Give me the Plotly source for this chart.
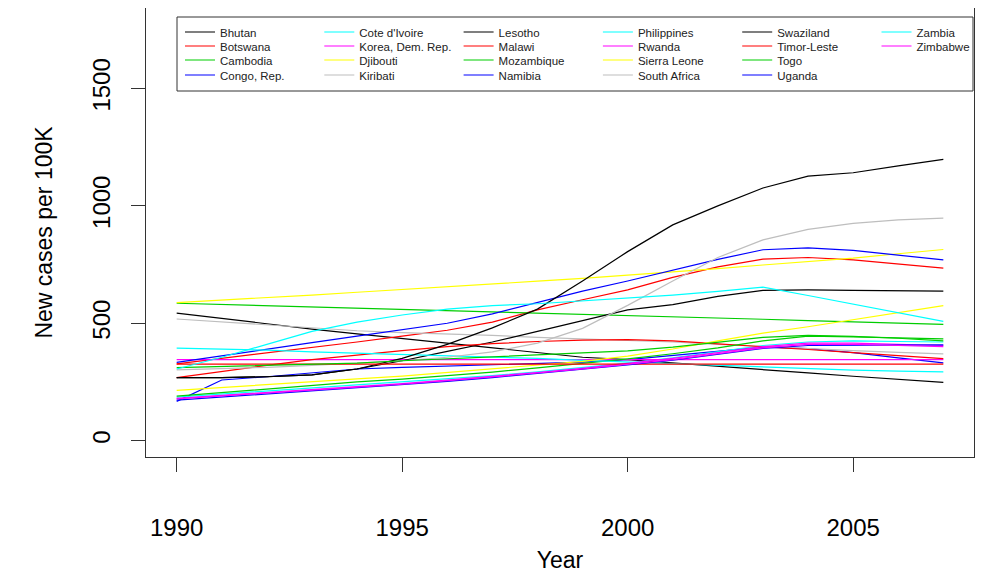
import plotly.graph_objects as go

years = list(range(1990, 2008))

countries = ["Bhutan", "Botswana", "Cambodia", "Congo, Rep.", "Cote d'Ivoire",
             "Korea, Dem. Rep.", "Djibouti", "Kiribati", "Lesotho", "Malawi",
             "Mozambique", "Namibia", "Philippines", "Rwanda", "Sierra Leone",
             "South Africa", "Swaziland", "Timor-Leste", "Togo", "Uganda",
             "Zambia", "Zimbabwe"]

bhutan = [543, 520, 498, 475, 455, 435, 412, 392, 372, 355, 345, 330, 316, 302, 288, 274, 261, 248]
botswana = [327, 350, 372, 395, 420, 445, 470, 505, 557, 600, 642, 695, 740, 773, 780, 770, 752, 735]
cambodia = [585, 580, 575, 569, 564, 559, 553, 548, 543, 538, 532, 527, 522, 517, 511, 506, 501, 495]
congo = [167, 258, 272, 290, 305, 312, 318, 322, 328, 334, 345, 362, 380, 398, 392, 375, 352, 331]
cote_divoire = [185, 198, 210, 222, 235, 248, 262, 277, 293, 310, 330, 352, 378, 405, 420, 425, 422, 420]
korea = [345, 345, 345, 345, 345, 345, 345, 345, 345, 345, 345, 345, 345, 345, 345, 345, 345, 345]
djibouti = [588, 598, 609, 620, 632, 643, 655, 667, 679, 691, 704, 718, 733, 748, 762, 777, 796, 814]
kiribati = [518, 505, 492, 478, 468, 460, 455, 448, 440, 434, 428, 420, 410, 400, 392, 383, 376, 369]
lesotho = [268, 268, 272, 280, 305, 340, 380, 420, 465, 510, 557, 579, 614, 640, 642, 640, 638, 637]
malawi = [268, 295, 320, 345, 365, 383, 400, 413, 422, 428, 430, 425, 412, 401, 388, 375, 362, 349]
mozambique = [189, 205, 221, 237, 250, 262, 276, 292, 310, 328, 348, 370, 395, 425, 445, 442, 437, 433]
namibia = [333, 360, 388, 417, 445, 472, 500, 540, 589, 637, 680, 725, 772, 813, 821, 810, 790, 770]
philippines = [394, 390, 385, 378, 373, 368, 362, 357, 350, 342, 335, 328, 320, 313, 306, 300, 296, 293]
rwanda = [180, 192, 205, 218, 230, 243, 258, 273, 290, 308, 328, 350, 375, 400, 415, 415, 410, 405]
sierra_leone = [214, 227, 240, 252, 263, 275, 290, 305, 320, 337, 360, 390, 425, 458, 485, 515, 545, 575]
south_africa = [301, 305, 312, 320, 330, 340, 355, 378, 415, 478, 576, 680, 780, 855, 900, 925, 940, 948]
swaziland = [268, 268, 272, 280, 305, 350, 410, 480, 560, 680, 805, 919, 1000, 1076, 1127, 1141, 1170, 1198]
timor_leste = [326, 326, 326, 326, 326, 326, 326, 326, 326, 326, 326, 326, 326, 326, 326, 326, 326, 326]
togo = [311, 315, 319, 323, 330, 340, 348, 356, 364, 372, 382, 398, 418, 440, 448, 444, 436, 425]
uganda = [172, 185, 198, 212, 225, 238, 252, 268, 285, 303, 322, 343, 368, 393, 405, 405, 408, 408]
zambia = [305, 355, 410, 465, 505, 535, 560, 575, 583, 595, 607, 620, 636, 654, 618, 581, 545, 508]
zimbabwe = [178, 190, 202, 214, 226, 240, 255, 270, 288, 305, 325, 345, 370, 395, 410, 410, 405, 400]

series = [bhutan, botswana, cambodia, congo, cote_divoire, korea, djibouti, kiribati,
          lesotho, malawi, mozambique, namibia, philippines, rwanda, sierra_leone,
          south_africa, swaziland, timor_leste, togo, uganda, zambia, zimbabwe]

palette = ["#000000", "#FF0000", "#00CD00", "#0000FF", "#00FFFF", "#FF00FF", "#FFFF00", "#BEBEBE"]

FONT = "Liberation Sans, Arial, Helvetica, sans-serif"

# page offset introduced by the default body margin of the html page
OFF = 8
W, H = 990 - 2 * OFF, 587 - 2 * OFF
plot_left, plot_right = 146 - OFF, 974 - OFF
plot_top, plot_bottom = 0, 457 - OFF
pw = plot_right - plot_left
ph = plot_bottom - plot_top

fig = go.Figure()
for i, (name, vals) in enumerate(zip(countries, series)):
    row = i % 4
    col = i // 4
    tr = go.Scatter(
        x=years, y=vals, mode="lines", name=name,
        line=dict(color=palette[i % len(palette)], width=1.2),
        legend="legend" if row == 0 else f"legend{row + 1}",
    )
    if col == 5:
        tr.legendwidth = 60
    fig.add_trace(tr)

row_centers_page = [33, 47, 61, 76]

legend_common = dict(
    orientation="h", xanchor="left", yanchor="middle",
    x=(186 - 6 - OFF - plot_left) / pw,
    bgcolor="rgba(0,0,0,0)", borderwidth=0,
    font=dict(family=FONT, size=11.5, color="#222222"),
    entrywidth=94.3, entrywidthmode="pixels", itemwidth=30,
    itemclick=False, itemdoubleclick=False,
)
legends = {}
for r, yc in enumerate(row_centers_page):
    key = "legend" if r == 0 else f"legend{r + 1}"
    fig_y = yc - OFF - 1
    legends[key] = dict(legend_common, y=(plot_bottom - fig_y) / ph)

def page_y_to_paper(y):
    return (plot_bottom - (y - OFF)) / ph

def page_x_to_paper(x):
    return ((x - OFF) - plot_left) / pw

fig.update_layout(
    width=W, height=H,
    margin=dict(l=plot_left, r=W - plot_right, t=plot_top, b=H - plot_bottom, autoexpand=False),
    plot_bgcolor="white", paper_bgcolor="white",
    font=dict(family=FONT, color="black"),
    showlegend=True,
    **legends,
    xaxis=dict(
        range=[1989.32, 2007.68], tickvals=[1990, 1995, 2000, 2005],
        ticks="outside", ticklen=14, tickwidth=1, tickcolor="#333333",
        showline=True, mirror=True, linecolor="#333333", linewidth=1,
        showgrid=False, zeroline=False,
        tickfont=dict(size=24, family=FONT, color="black"),
        ticklabelstandoff=35,
        title=dict(text="Year", font=dict(size=23, family=FONT, color="black"), standoff=12),
    ),
    yaxis=dict(
        range=[-70, 1843], tickvals=[0, 500, 1000, 1500],
        ticks="outside", ticklen=14, tickwidth=1, tickcolor="#333333",
        showline=True, mirror=True, linecolor="#333333", linewidth=1,
        showgrid=False, zeroline=False, tickangle=-90,
        tickfont=dict(size=24, family=FONT, color="black"),
        ticklabelstandoff=11,
        title=dict(text="New cases per 100K", font=dict(size=23, family=FONT, color="black"), standoff=29),
    ),
    shapes=[dict(
        type="rect", xref="paper", yref="paper",
        x0=page_x_to_paper(177), x1=page_x_to_paper(973),
        y0=page_y_to_paper(91), y1=page_y_to_paper(17),
        line=dict(color="#333333", width=1), fillcolor="rgba(0,0,0,0)", layer="above",
    )],
)

fig.write_html("out.html")
